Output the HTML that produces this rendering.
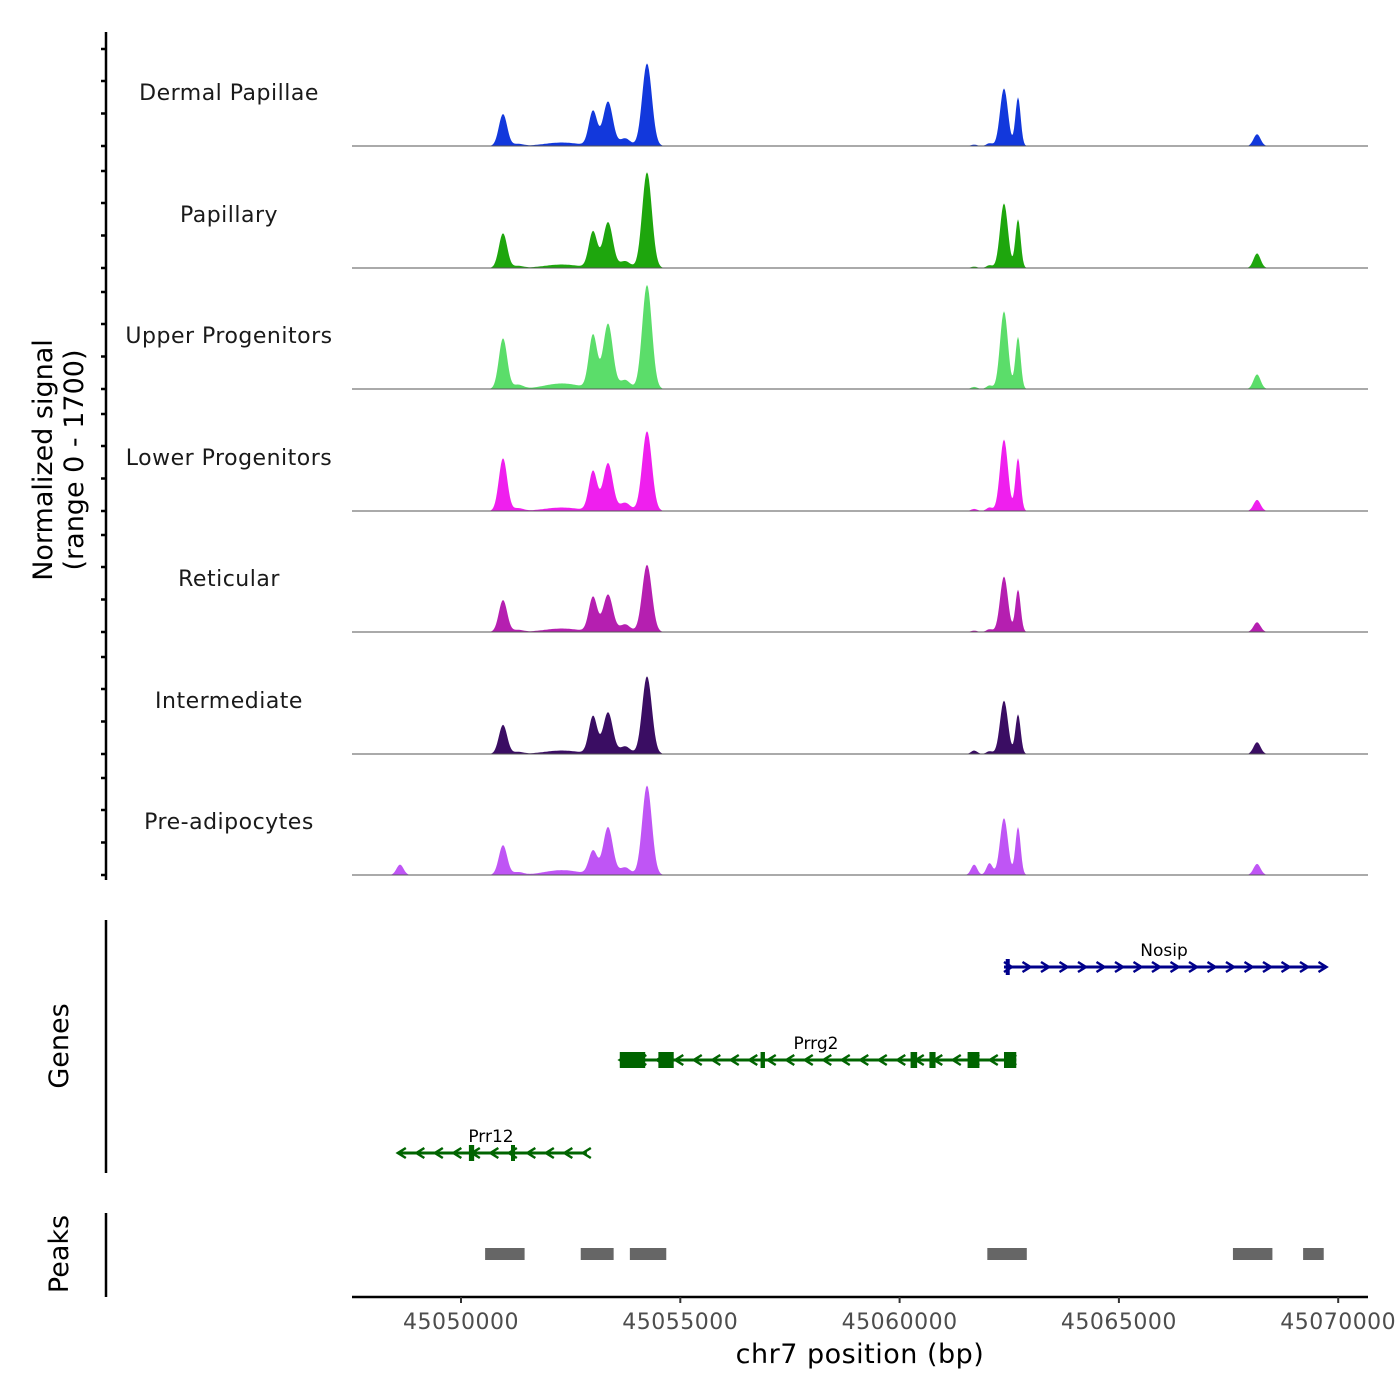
<!DOCTYPE html>
<html><head><meta charset="utf-8"><style>
body{margin:0;background:#fff}
svg{display:block;font-family:"DejaVu Sans","Liberation Sans",sans-serif}
</style></head><body>
<svg id="c" width="1400" height="1400"></svg>
<script>
const trackNames=["Dermal Papillae","Papillary","Upper Progenitors","Lower Progenitors","Reticular","Intermediate","Pre-adipocytes"];
const trackColors=["#1238dc","#1ea60d","#5bdd6a","#ef1fee","#b51fb0","#3a0d63","#bf55f5"];
const peakCenters=[45050958,45053010,45053352,45054241,45062380,45062700,45068150,45053740,45052300,45048610,45061700,45062050,45051300];
const peakWidths=[95,95,110,110,90,60,80,120,400,80,70,70,120];
const sigDermal=[460,500,640,1190,830,700,170,110,50,0,20,40,30];
const sigPapillary=[500,520,660,1380,930,700,210,100,50,0,20,40,30];
const sigUpper=[730,770,940,1500,1120,750,210,130,80,0,30,50,60];
const sigLower=[760,570,690,1150,1030,760,160,120,50,0,30,50,40];
const sigReticular=[460,500,540,970,800,610,140,110,50,0,20,40,30];
const sigIntermediate=[420,540,600,1120,770,570,170,110,50,0,50,40,30];
const sigPreadipo=[430,340,690,1290,820,690,160,110,70,150,150,170,40];
const signals=[sigDermal,sigPapillary,sigUpper,sigLower,sigReticular,sigIntermediate,sigPreadipo];
const xTicks=[45050000,45055000,45060000,45065000,45070000];
const geneNames=["Nosip","Prrg2","Prr12"];
const geneStarts=[45062380,45053620,45048560];
const geneEnds=[45069680,45062660,45052870];
const geneStrand=[1,-1,-1];
const geneExons=[[[45062420,45062500]],[[45053620,45054200],[45054500,45054850],[45056830,45056930],[45060250,45060400],[45060680,45060820],[45061550,45061820],[45062380,45062660]],[[45050180,45050300],[45051140,45051220]]];
const peakStarts=[45050550,45052730,45053850,45062000,45067600,45069200];
const peakEnds=[45051450,45053480,45054680,45062900,45068500,45069670];

const svg=document.getElementById('c');
const NS='http://www.w3.org/2000/svg';
function el(t,a,p){const e=document.createElementNS(NS,t);for(const k in a)e.setAttribute(k,a[k]);(p||svg).appendChild(e);return e;}
const X0=352,X1=1368;
function xs(bp){return 461+(bp-45050000)/5000*219.3;}
function bpOf(x){return 45050000+(x-461)/219.3*5000;}
const baselines=[146,268,389,511,632,754,875];
function ys(v,b){return b-v/1700*118;}

// y axis
const ya=el('line',{x1:106,y1:32,x2:106,y2:880,stroke:'#000','stroke-width':2.5});

const tickYs=[];
baselines.forEach(b=>{[0,32.5,65,97].forEach(o=>tickYs.push(b-o));});
tickYs.forEach(y=>{const tk=el('line',{x1:101,y1:y,x2:106,y2:y,stroke:'#000','stroke-width':2.5});
 });
const yt=el('text',{x:0,y:0,'font-size':27,'text-anchor':'middle',transform:'translate(52,460) rotate(-90)'});

const t1=el('tspan',{x:0,dy:0},yt);t1.textContent='Normalized signal';
const t2=el('tspan',{x:0,dy:31},yt);t2.textContent='(range 0 - 1700)';

// tracks
signals.forEach((s,t)=>{
 const b=baselines[t];
 const g=el('g',{});
 let d='M'+X0+','+b;
 for(let x=X0;x<=X1;x+=1){const bp=bpOf(x);let v=0;
  for(let i=0;i<peakCenters.length;i++){const z=(bp-peakCenters[i])/peakWidths[i];v+=s[i]*Math.exp(-0.5*z*z);}
  d+=' L'+x+','+ys(v,b).toFixed(1);}
 d+=' L'+X1+','+b+' Z';
 const p=el('path',{d:d,fill:trackColors[t]},g);
 const bl=el('line',{x1:X0,y1:b,x2:X1,y2:b,stroke:'#555','stroke-width':1},g);
 const lb=el('text',{x:229,y:b-46,'font-size':22,'text-anchor':'middle',fill:'#1a1a1a','letter-spacing':'0.5'},g);
 lb.textContent=trackNames[t];
});

// genes
const ga=el('line',{x1:106,y1:920,x2:106,y2:1173,stroke:'#000','stroke-width':2.5});
const gt=el('text',{x:0,y:0,'font-size':27,'text-anchor':'middle',transform:'translate(68,1046) rotate(-90)'});gt.textContent='Genes';
const geneY=[967,1060,1153];const geneCol=['#00008b','#006400','#006400'];
geneNames.forEach((n,i)=>{
 const g=el('g',{stroke:geneCol[i],fill:geneCol[i]});
 const y=geneY[i],a=xs(geneStarts[i]),b=xs(geneEnds[i]);
 el('line',{x1:a,y1:y,x2:b,y2:y,'stroke-width':3},g);
 for(let x=a+4;x<=b;x+=18.5){const dx=geneStrand[i]*4;
  el('polyline',{points:(x-dx)+','+(y-5)+' '+(x+dx)+','+y+' '+(x-dx)+','+(y+5),fill:'none','stroke-width':2.5},g);}
 geneExons[i].forEach(e=>{const ex=el('rect',{x:xs(e[0]),y:y-8,width:Math.max(4,xs(e[1])-xs(e[0])),height:16,stroke:'none'},g);});
 const lb=el('text',{x:(n==='Nosip'?1164:(n==='Prrg2'?816:491)),y:y-11,'font-size':17,'text-anchor':'middle',fill:'#000',stroke:'none'},g);
 lb.textContent=n;
});

// peaks
const pa=el('line',{x1:106,y1:1213,x2:106,y2:1297,stroke:'#000','stroke-width':2.5});
const pt=el('text',{x:0,y:0,'font-size':27,'text-anchor':'middle',transform:'translate(68,1254) rotate(-90)'});pt.textContent='Peaks';
peakStarts.forEach((s,i)=>{const r=el('rect',{x:xs(s),y:1248,width:xs(peakEnds[i])-xs(s),height:12,fill:'#666'});});

// x axis
const xa=el('line',{x1:X0,y1:1297,x2:X1,y2:1297,stroke:'#000','stroke-width':2.5});
xTicks.forEach(v=>{const x=xs(v);
 const tk=el('line',{x1:x,y1:1297,x2:x,y2:1303,stroke:'#333','stroke-width':2});
 const l=el('text',{x:x,y:1329,'font-size':22,'text-anchor':'middle',fill:'#4d4d4d','letter-spacing':'0.5'});l.textContent=v;});
const xt=el('text',{x:860,y:1363,'font-size':27,'text-anchor':'middle','letter-spacing':'0.5'});xt.textContent='chr7 position (bp)';
</script>
</body></html>
